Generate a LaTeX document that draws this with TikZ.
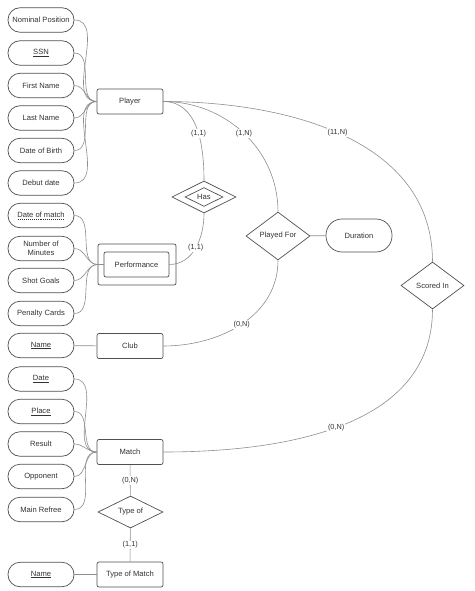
\documentclass[tikz,border=0pt]{standalone}
\usepackage{fontspec}
\setmainfont{Liberation Sans}
\usetikzlibrary{shapes.geometric}
\definecolor{bord}{HTML}{505050}
\definecolor{conn}{HTML}{8E8E8E}
\definecolor{txt}{HTML}{333333}
\newcommand\keyul[1]{\setbox0\hbox{#1}\copy0\kern-\wd0\raisebox{-1.6pt}{\rule{\wd0}{0.45pt}}}
\newcommand\dashkeyul[1]{\setbox0\hbox{#1}\copy0\kern-\wd0\raisebox{-1.6pt}{\hbox to \wd0{\xleaders\hbox to 2pt{\hss\rule{1.1pt}{0.45pt}\hss}\hfill}}}
\begin{document}
\begin{tikzpicture}[x=1pt,y=-1pt,
 every node/.style={font=\fontsize{7.6}{9}\selectfont, text=txt},
 attr/.style={draw=bord, line width=0.7pt, rounded corners=12pt, minimum width=66pt, minimum height=24.5pt, inner sep=0pt, align=center, fill=white},
 ent/.style={draw=bord, line width=0.7pt, rounded corners=2pt, minimum width=66pt, minimum height=25pt, inner sep=0pt, fill=white},
 rel/.style={draw=bord, line width=0.7pt, diamond, inner sep=0pt, fill=white},
 link/.style={draw=conn, line width=0.6pt},
 card/.style={fill=white, inner sep=1pt, font=\fontsize{7.3}{8}\selectfont}
]
\useasboundingbox[fill=white] (0,0) rectangle (474,591);

% Player
\node[attr] (np) at (41,20) {Nominal Position};
\node[attr] (ssn) at (41,53) {\keyul{SSN}};
\node[attr] (fn) at (41,85.5) {First Name};
\node[attr] (ln) at (41,118) {Last Name};
\node[attr] (dob) at (41,150.5) {Date of Birth};
\node[attr] (dd) at (41,183) {Debut date};
\node[ent] (player) at (130,101.5) {Player};

% Performance
\node[attr] (dom) at (41,215.5) {\dashkeyul{Date of match}};
\node[attr] (nom) at (41,248.5) {Number of\\Minutes};
\node[attr] (sg) at (41,280.5) {Shot Goals};
\node[attr] (pc) at (41,313.5) {Penalty Cards};
\node[draw=bord, line width=0.7pt, rounded corners=2pt, minimum width=78pt, minimum height=41pt, inner sep=0pt] (perfo) at (137,264.5) {};
\node[ent, minimum width=65pt] (perf) at (136.5,264.5) {Performance};

% Club
\node[attr] (cname) at (41,345.5) {\keyul{Name}};
\node[ent] (club) at (130,346) {Club};

% Relationships
\node[rel, minimum width=64pt, minimum height=32pt] (has) at (204,197) {};
\node[rel, minimum width=38pt, minimum height=18pt] (hasi) at (204,197) {Has};
\node[rel, minimum width=64pt, minimum height=48pt] (pf) at (278,236) {Played For};
\node[attr, minimum height=33pt, rounded corners=16pt] (dur) at (359,235.5) {Duration};
\node[rel, minimum width=63pt, minimum height=47pt] (si) at (432.5,285.5) {Scored In};

% Match
\node[attr] (date) at (41,379) {\keyul{Date}};
\node[attr] (place) at (41,411.5) {\keyul{Place}};
\node[attr] (res) at (41,444) {Result};
\node[attr] (opp) at (41,476.5) {Opponent};
\node[attr] (ref) at (41,509.5) {Main Refree};
\node[ent] (match) at (130,452) {Match};
\node[rel, minimum width=65pt, minimum height=26pt] (typeof) at (130.5,512) {Type of};
\node[ent] (tom) at (130,574.5) {Type of Match};
\node[attr] (tname) at (41,574.5) {\keyul{Name}};

% attribute links
\foreach \a in {np,ssn,fn,ln,dob,dd}
  \draw[link] (\a.east) to[out=0,in=180] (player.west);
\foreach \a in {dom,nom,sg,pc}
  \draw[link] (\a.east) to[out=0,in=180] (perfo.west);
\draw[link] (perfo.west) -- (perf.west);
\foreach \a in {date,place,res,opp,ref}
  \draw[link] (\a.east) to[out=0,in=180] (match.west);
\draw[link] (cname) -- (club);
\draw[link] (tname) -- (tom);
\draw[link] (pf) -- (dur);

% relationship links
\draw[link] (player.east) to[out=0,in=90] node[card,pos=0.56] {(1,1)} (has.north);
\draw[link] (has.south) to[out=-90,in=0] node[card,pos=0.5] {(1,1)} (perf.east);
\draw[link] (player.east) to[out=0,in=90] node[card,pos=0.5] {(1,N)} (pf.north);
\draw[link] (pf.south) to[out=-90,in=0] node[card,pos=0.5] {(0,N)} (club.east);
\draw[link] (player.east) to[out=0,in=90] node[card,pos=0.48] {(11,N)} (si.north);
\draw[link] (si.south) to[out=-90,in=0] node[card,pos=0.52] {(0,N)} (match.east);
\draw[link] (match) -- node[card] {(0,N)} (typeof);
\draw[link] (typeof) -- node[card] {(1,1)} (tom);
\end{tikzpicture}
\end{document}
